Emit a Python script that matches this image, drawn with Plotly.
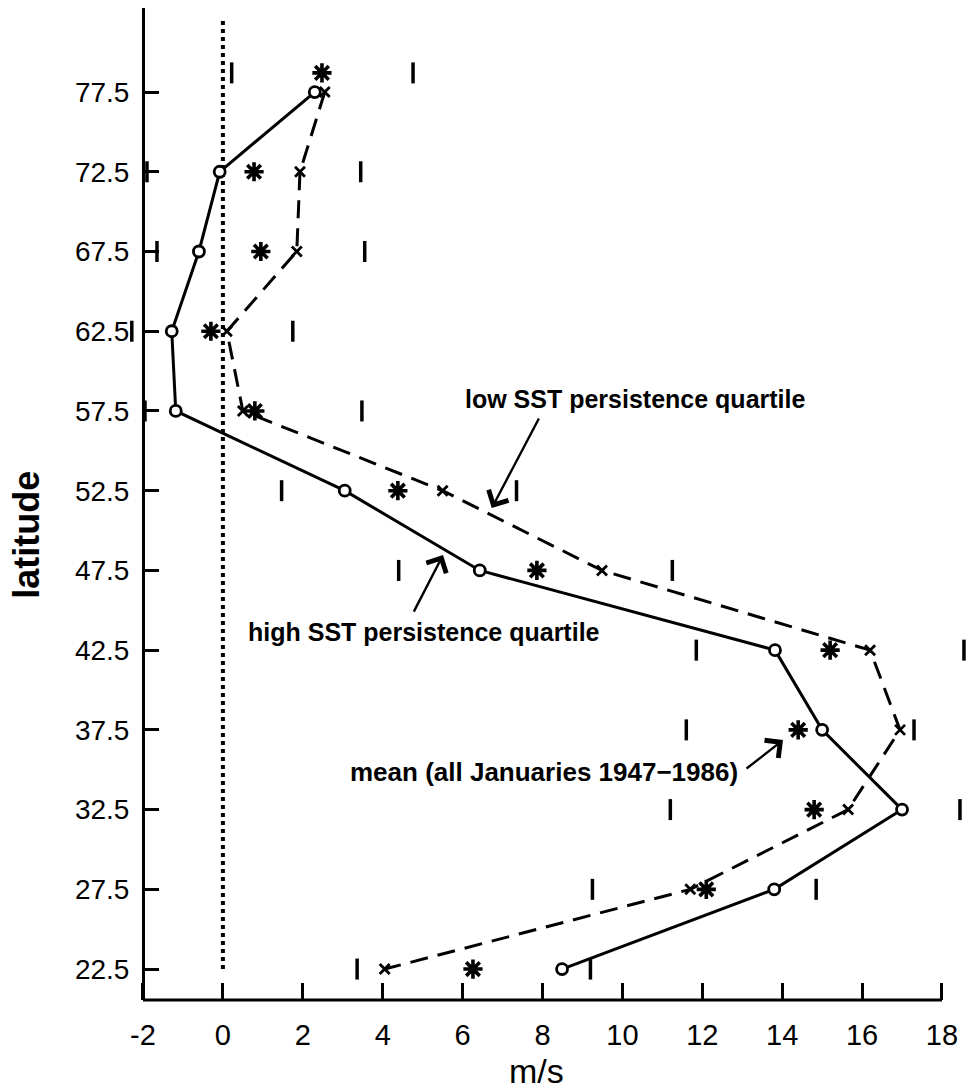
import plotly.graph_objects as go

# Latitude bands (deg N)
latitude = [77.5, 72.5, 67.5, 62.5, 57.5, 52.5, 47.5, 42.5, 37.5, 32.5, 27.5, 22.5]
# Latitudes at which the mean and its spread marks are plotted
mean_latitude = [78.7, 72.5, 67.5, 62.5, 57.5, 52.5, 47.5, 42.5, 37.5, 32.5, 27.5, 22.5]

# Zonal wind (m/s) composites
high_sst = [2.30, -0.08, -0.60, -1.28, -1.18, 3.05, 6.43, 13.82, 15.00, 17.00, 13.80, 8.49]
low_sst = [2.55, 1.93, 1.85, 0.10, 0.50, 5.50, 9.49, 16.20, 16.95, 15.65, 11.70, 4.05]
mean_all = [2.48, 0.78, 0.95, -0.30, 0.80, 4.38, 7.86, 15.20, 14.40, 14.80, 12.10, 6.26]
mean_lower = [0.22, -1.90, -1.65, -2.28, -1.95, 1.47, 4.40, 11.85, 11.60, 11.20, 9.25, 3.36]
mean_upper = [4.76, 3.45, 3.55, 1.75, 3.48, 7.35, 11.25, 18.55, 17.30, 18.45, 14.85, 9.20]

x_ticks = [-2, 0, 2, 4, 6, 8, 10, 12, 14, 16, 18]
y_ticks = [22.5, 27.5, 32.5, 37.5, 42.5, 47.5, 52.5, 57.5, 62.5, 67.5, 72.5, 77.5]
zero_line_span = [22.5, 82.0]

# axis drawn from -2 to 18; the plotting area is a little wider so that
# spread marks lying beyond the axis ends stay visible
X_AXIS_SPAN = [-2, 18]
X_RANGE = [-3.076, 18.601]
Y_RANGE = [20.56, 82.77]
Y_AXIS_POS = (143 - 100) / 866
FONT = "Liberation Sans"
INK = "black"

fig = go.Figure()

# dotted reference line at 0 m/s
fig.add_trace(go.Scatter(
    x=[0, 0], y=zero_line_span, mode="lines",
    line=dict(color=INK, width=4, dash="4px,4px"),
    hoverinfo="skip",
))

# spread of the mean (lower / upper marks)
fig.add_trace(go.Scatter(
    x=mean_lower + mean_upper, y=mean_latitude + mean_latitude, mode="markers",
    marker=dict(symbol="line-ns-open", size=15, color=INK, line=dict(color=INK, width=3.5)),
    cliponaxis=False,
))

# low SST persistence quartile
fig.add_trace(go.Scatter(
    x=low_sst, y=latitude, mode="lines+markers",
    line=dict(color=INK, width=3, dash="18px,10px"),
    marker=dict(symbol="x-thin-open", size=10, color=INK, line=dict(color=INK, width=2.8)),
))

# high SST persistence quartile
fig.add_trace(go.Scatter(
    x=high_sst, y=latitude, mode="lines+markers",
    line=dict(color=INK, width=3),
    marker=dict(symbol="circle", size=11, color="white", line=dict(color=INK, width=2.8)),
))

# mean of all Januaries
fig.add_trace(go.Scatter(
    x=mean_all, y=mean_latitude, mode="markers",
    marker=dict(symbol="asterisk-open", size=16, color=INK, line=dict(color=INK, width=3.6)),
))

label_font = dict(family=FONT, size=25, color=INK, weight="bold")
arrow_style = dict(axref="x", ayref="y", text="", showarrow=True, arrowhead=4,
                   arrowsize=1.8, arrowwidth=2.4, arrowcolor=INK)

annotations = [
    dict(x=10.31, y=58.25, text="low SST persistence quartile", showarrow=False, font=label_font),
    dict(x=5.03, y=43.63, text="high SST persistence quartile", showarrow=False, font=label_font),
    dict(x=8.05, y=34.85, text="mean (all Januaries 1947\u22121986)", showarrow=False,
         font=dict(label_font, size=26)),
    # arrows
    dict(x=6.73, y=51.41, ax=7.93, ay=57.12, **arrow_style),
    dict(x=5.51, y=48.46, ax=4.76, ay=44.82, **arrow_style),
    dict(x=14.02, y=36.86, ax=13.07, ay=35.0, **arrow_style),
    # axis titles
    dict(xref="paper", yref="paper", x=-0.0843, y=0.469, xanchor="center", yanchor="middle",
         text="latitude", textangle=-90, showarrow=False,
         font=dict(family=FONT, size=36, color=INK, weight="bold")),
    dict(xref="paper", yref="paper", x=0.5035, y=-0.0715, xanchor="center", yanchor="middle",
         text="m/s", showarrow=False, font=dict(family=FONT, size=34, color=INK)),
]

# bottom axis line, only across the labelled span
shapes = [
    dict(type="line", xref="x", yref="paper", x0=X_AXIS_SPAN[0], x1=X_AXIS_SPAN[1], y0=0, y1=0,
         line=dict(color=INK, width=3)),
]

fig.update_layout(
    width=966, height=1090, autosize=False,
    margin=dict(l=100, r=0, t=8, b=90),
    paper_bgcolor="white", plot_bgcolor="white",
    showlegend=False,
    annotations=annotations,
    shapes=shapes,
)

fig.update_xaxes(
    range=X_RANGE, tickvals=x_ticks, ticktext=[str(v) for v in x_ticks],
    showgrid=False, zeroline=False, showline=False,
    ticks="inside", ticklen=17, tickwidth=2.5, tickcolor=INK,
    tickfont=dict(family=FONT, size=29, color=INK), ticklabelstandoff=15,
)
fig.update_yaxes(
    range=Y_RANGE, tickvals=y_ticks, ticktext=[f"{v:.1f}" for v in y_ticks],
    anchor="free", position=Y_AXIS_POS,
    showgrid=False, zeroline=False, showline=True, linecolor=INK, linewidth=3,
    ticks="inside", ticklen=14, tickwidth=2.5, tickcolor=INK,
    tickfont=dict(family=FONT, size=28, color=INK), ticklabelstandoff=7,
)

fig.write_html("out.html")
